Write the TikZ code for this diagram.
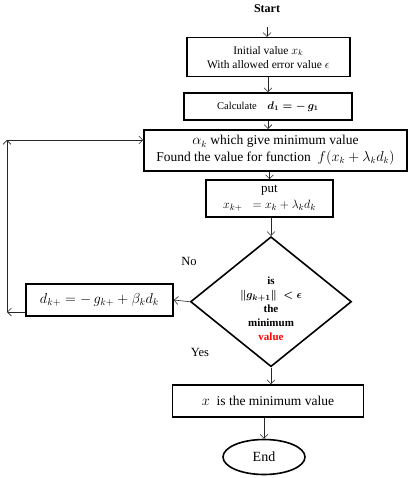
\documentclass[tikz,border=0pt]{standalone}
\usepackage{amssymb}
\usepackage{amsmath}
\usepackage{fontspec}
\setmainfont{Liberation Serif}
\usepackage{tikz}
\usetikzlibrary{shapes.geometric}
\usetikzlibrary{arrows.meta}
\newcommand{\fsz}[1]{\fontsize{#1}{1.22\dimexpr #1pt\relax}\selectfont}
\tikzset{mbox/.style={draw,line width=1.6pt,align=center,inner sep=2pt}}
\tikzset{mdiam/.style={draw,diamond,line width=1.6pt,inner sep=0pt,minimum width=161,minimum height=130}}
\tikzset{mflow/.style={draw,black!85,line width=0.6pt,-{Straight Barb[length=4pt,width=8pt]}}}

\begin{document}
\begin{tikzpicture}[x=1pt,y=-1pt]
\useasboundingbox (0,0) rectangle (415,478);
\node[font=\bfseries\fsz{12}] (start) at (267,9) {Start};
\node[mbox,font=\fsz{11.5},minimum width=163,minimum height=39] (init) at (268.3,57.2) {Initial value $x_k$\\ With allowed error value $\epsilon$};
\node[mbox,font=\fsz{10.5},minimum width=168,minimum height=27] (calc) at (268,106.5) {Calculate\quad $\boldsymbol{d_1=-\,g_1}$};
\node[mbox,font=\fsz{13.5},minimum width=263,minimum height=41] (alpha) at (275.5,150.3) {$\alpha_k$ which give minimum value\\ Found the value for function\ \ $f(x_k+\lambda_k d_k)$};
\node[mbox,font=\fsz{13},minimum width=127,minimum height=37] (put) at (269.5,198.5) {put\\ $x_{k+}\;\;=x_k+\lambda_k d_k$};
\node[mdiam] (dec) at (271,301.7) {};
\node[align=center,font=\bfseries\fontsize{11}{14}\selectfont,inner sep=0pt] (dtext) at (271,309) {is\\ $\boldsymbol{\|g_{k+1}\|\ <\epsilon}$\\ the\\ minimum\\ \textcolor{red}{value}};
\node[mbox,font=\fsz{14},minimum width=147,minimum height=32] (dnew) at (99.4,300) {$d_{k+}=-\,g_{k+}+\beta_k d_k$};
\node[mbox,font=\fsz{13.5},minimum width=191,minimum height=32] (res) at (268,401) {$x$\ \ is the minimum value};
\node[draw,ellipse,line width=1.6pt,font=\fsz{14},minimum width=82,minimum height=35] (end) at (264,457) {End};
\node[font=\fsz{12.5}] (lno) at (189,261) {No};
\node[font=\fsz{12.5}] (lyes) at (200,352) {Yes};
\coordinate (lowc) at (7,312);
\coordinate (topc) at (7,140);

\draw[mflow,shorten <=10pt] (start.south) -- (start.south |- init.north);
\draw[mflow] (init.south -| calc.north) -- (calc.north);
\draw[mflow] (calc.south) -- (calc.south |- alpha.north);
\draw[mflow] (alpha.south -| put.north) -- (put.north);
\draw[mflow] (dec.north |- put.south) -- (dec.north);
\draw[mflow] (dec.west) -- (dnew.east);
\draw[mflow] (dnew.west |- lowc) -- (lowc);
\draw[mflow] (lowc) -- (topc);
\draw[mflow] (topc) -- (alpha.west |- topc);
\draw[mflow] (dec.south) -- (dec.south |- res.north);
\draw[mflow] (end.north |- res.south) -- (end.north);
\end{tikzpicture}
\end{document}
